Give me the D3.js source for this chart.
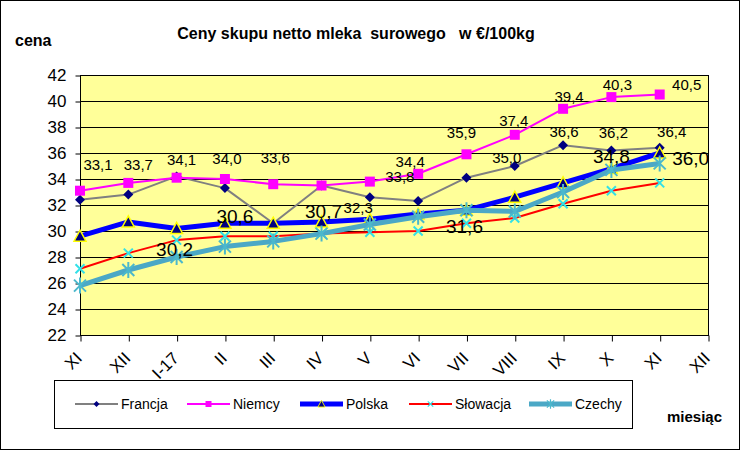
<!DOCTYPE html>
<html>
<head>
<meta charset="utf-8">
<script src="https://cdn.jsdelivr.net/npm/d3@7"></script>
<style>
  html, body { margin: 0; padding: 0; background: #fff; }
  svg { display: block; font-family: Arial, 'Liberation Sans', sans-serif; }
</style>
</head>
<body>
<svg id="chart" width="740" height="450"></svg>
<script>
// ── Data ──────────────────────────────────────────────────────────────────
const months = ['XI', 'XII', 'I-17', 'II', 'III', 'IV', 'V', 'VI', 'VII', 'VIII', 'IX', 'X', 'XI', 'XII'];
const yTicks = [22, 24, 26, 28, 30, 32, 34, 36, 38, 40, 42];

const francja  = [32.4, 32.8, 34.2, 33.3, 30.6, 33.5, 32.6, 32.3, 34.1, 35.0, 36.6, 36.2, 36.4];
const niemcy   = [33.1, 33.7, 34.1, 34.0, 33.6, 33.5, 33.8, 34.4, 35.9, 37.4, 39.4, 40.3, 40.5];
const polska   = [29.6, 30.7, 30.2, 30.6, 30.6, 30.7, 30.9, 31.3, 31.6, 32.6, 33.7, 34.8, 36.0];
const slowacja = [27.1, 28.3, 29.3, 29.6, 29.6, 29.8, 29.9, 30.0, 30.6, 31.0, 32.1, 33.1, 33.7];
const czechy   = [25.8, 27.0, 28.0, 28.8, 29.2, 29.8, 30.5, 31.1, 31.6, 31.5, 33.0, 34.7, 35.2];

// ── Series styling ───────────────────────────────────────────────────────────
const series = [
  { name: 'Francja',  values: francja,  line: '#808080', width: 2,   marker: 'diamond' },
  { name: 'Niemcy',   values: niemcy,   line: '#FF00FF', width: 2,   marker: 'square' },
  { name: 'Polska',   values: polska,   line: '#0000FF', width: 5,   marker: 'triangle' },
  { name: 'Słowacja', values: slowacja, line: '#FF0000', width: 2,   marker: 'x' },
  { name: 'Czechy',   values: czechy,   line: '#4BA8C6', width: 5,   marker: 'star' },
];

// Data labels: series index, point index, nudge from the point, size
const labels = [
  [1, 0, 18, -26, 15], [1, 1, 10, -18, 15], [1, 2, 5, -18, 15], [1, 3, 2, -20, 15],
  [1, 4, 2, -26, 15], [1, 6, 30, -5, 15], [1, 7, -8, -12, 15], [1, 8, -5, -22, 15],
  [1, 9, -1, -14, 15], [1, 10, 6, -12, 15], [1, 11, 6, -12, 15], [1, 12, 27, -10, 15],
  [0, 7, -60, 7, 15], [0, 9, -8, -8, 15], [0, 10, 1, -13, 15], [0, 11, 2, -18, 15], [0, 12, 12, -16, 15],
  [2, 2, -2, 21, 19], [2, 3, 10, -7, 19], [2, 5, 2, -11, 19], [2, 8, -2, 16, 19],
  [2, 11, 0, -12, 19], [2, 12, 31, 5, 19],
];

// ── Layout ───────────────────────────────────────────────────────────────────
const plot = { left: 80, right: 708, top: 75, bottom: 335 };
const svg = d3.select('#chart');

const x = d3.scalePoint()
  .domain(d3.range(months.length))
  .range([plot.left, plot.right]);

const y = d3.scaleLinear()
  .domain([22, 42])
  .range([plot.bottom, plot.top]);

// outer frame
svg.append('rect')
  .attr('x', 0.5).attr('y', 0.5)
  .attr('width', 739).attr('height', 449)
  .attr('fill', '#fff')
  .attr('stroke', '#000');

// plot background
svg.append('rect')
  .attr('x', plot.left).attr('y', plot.top)
  .attr('width', plot.right - plot.left)
  .attr('height', plot.bottom - plot.top)
  .attr('fill', '#FFFF99');

// gridlines
svg.append('g')
  .selectAll('line')
  .data(yTicks)
  .join('line')
  .attr('x1', plot.left).attr('x2', plot.right)
  .attr('y1', d => y(d) + 0.5).attr('y2', d => y(d) + 0.5)
  .attr('stroke', '#000')
  .attr('stroke-width', 1);

svg.append('rect')
  .attr('x', plot.left + 0.5).attr('y', plot.top + 0.5)
  .attr('width', plot.right - plot.left)
  .attr('height', plot.bottom - plot.top)
  .attr('fill', 'none')
  .attr('stroke', '#000');

// ── Axes ─────────────────────────────────────────────────────────────────────
const yAxis = svg.append('g')
  .attr('transform', `translate(${plot.left + 0.5},0.5)`)
  .call(d3.axisLeft(y).tickValues(yTicks).tickSize(5).tickPadding(9).tickFormat(d3.format('d')));
yAxis.select('.domain').remove();
yAxis.selectAll('line').attr('stroke', '#000');
yAxis.selectAll('text')
  .attr('font-size', 17)
  .attr('fill', '#000')
  .attr('font-family', 'Arial, Liberation Sans, sans-serif');

const xAxis = svg.append('g')
  .attr('transform', `translate(0.5,${plot.bottom + 0.5})`)
  .call(d3.axisBottom(x).tickSize(6).tickFormat(''));
xAxis.select('.domain').remove();
xAxis.selectAll('line').attr('stroke', '#000');

svg.append('g')
  .selectAll('text')
  .data(months)
  .join('text')
  .attr('transform', (d, i) => `translate(${x(i) - 1},355) rotate(-45)`)
  .attr('text-anchor', 'end')
  .attr('dy', '0.35em')
  .attr('font-size', 17)
  .attr('fill', '#000')
  .text(d => d);

// ── Lines ────────────────────────────────────────────────────────────────────
const line = d3.line()
  .x((d, i) => x(i))
  .y(d => y(d));

const markerPaths = {
  diamond: 'M0,-5L5,0L0,5L-5,0Z',
  square: 'M-5,-5H5V5H-5Z',
  triangle: 'M0,-6L6,5H-6Z',
  x: 'M-4.5,-4.5L4.5,4.5M-4.5,4.5L4.5,-4.5',
  star: 'M-6,-6L6,6M-6,6L6,-6M0,-8V8',
};

function drawMarker(g, type, scale) {
  const p = g.append('path').attr('d', markerPaths[type]);
  if (scale) p.attr('transform', `scale(${scale})`);
  if (type === 'diamond') p.attr('fill', '#000080');
  if (type === 'square') p.attr('fill', '#FF00FF');
  if (type === 'triangle') p.attr('fill', '#000080').attr('stroke', '#FFFF00').attr('stroke-width', 1.5);
  if (type === 'x') p.attr('fill', 'none').attr('stroke', '#33E0E8').attr('stroke-width', 2);
  if (type === 'star') p.attr('fill', 'none').attr('stroke', '#4BB8CC').attr('stroke-width', 2);
  return p;
}

for (const s of series) {
  const g = svg.append('g');
  g.append('path')
    .datum(s.values)
    .attr('d', line)
    .attr('fill', 'none')
    .attr('stroke', s.line)
    .attr('stroke-width', s.width)
    .attr('stroke-linejoin', 'round');

  s.values.forEach((v, i) => {
    const m = g.append('g').attr('transform', `translate(${x(i)},${y(v)})`);
    drawMarker(m, s.marker);
  });
}

// ── Data labels ─────────────────────────────────────────────────────────────
const fmt = v => d3.format('.1f')(v).replace('.', ',');
svg.append('g')
  .selectAll('text')
  .data(labels)
  .join('text')
  .attr('x', d => x(d[1]) + d[2])
  .attr('y', d => y(series[d[0]].values[d[1]]) + d[3])
  .attr('dy', '0.35em')
  .attr('text-anchor', 'middle')
  .attr('font-size', d => d[4])
  .attr('fill', '#000')
  .text(d => fmt(series[d[0]].values[d[1]]));

// ── Titles ──────────────────────────────────────────────────────────────────
svg.append('text')
  .attr('x', 356).attr('y', 33)
  .attr('dy', '0.35em')
  .attr('text-anchor', 'middle')
  .attr('font-size', 16)
  .attr('font-weight', 'bold')
  .style('white-space', 'pre')
  .text('Ceny skupu netto mleka  surowego   w €/100kg');

svg.append('text')
  .attr('x', 15).attr('y', 40)
  .attr('dy', '0.35em')
  .attr('font-size', 16)
  .attr('font-weight', 'bold')
  .text('cena');

svg.append('text')
  .attr('x', 667).attr('y', 417)
  .attr('dy', '0.35em')
  .attr('font-size', 15)
  .attr('font-weight', 'bold')
  .text('miesiąc');

// ── Legend ──────────────────────────────────────────────────────────────────
const legend = svg.append('g');
legend.append('rect')
  .attr('x', 54.5).attr('y', 380.5)
  .attr('width', 578).attr('height', 48)
  .attr('fill', '#fff')
  .attr('stroke', '#000');

const legendX = [75, 187, 300, 409, 529];
series.forEach((s, i) => {
  const g = legend.append('g').attr('transform', `translate(${legendX[i]},404)`);
  g.append('line')
    .attr('x1', 0).attr('x2', 43)
    .attr('stroke', s.line)
    .attr('stroke-width', s.width);
  const m = g.append('g').attr('transform', 'translate(21.5,0)');
  drawMarker(m, s.marker, 0.6);
  g.append('text')
    .attr('x', 46)
    .attr('dy', '0.35em')
    .attr('font-size', 14)
    .attr('fill', '#000')
    .text(s.name);
});
</script>
</body>
</html>
